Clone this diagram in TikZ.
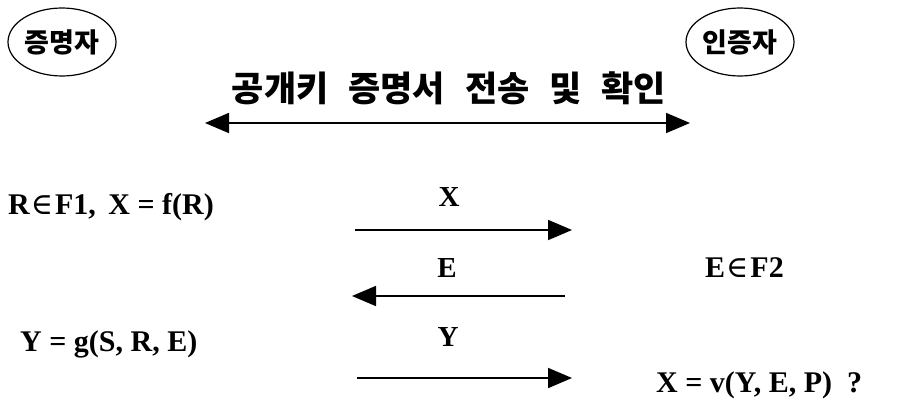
\documentclass[tikz,border=0pt]{standalone}
\usepackage{fontspec}
\setmainfont{Liberation Serif}
\newfontfamily\kr{Noto Sans CJK KR}
\newfontfamily\symf{DejaVu Serif}
\newcommand{\elem}{{\symf\mdseries\kern1pt∈\kern2pt}}
\usetikzlibrary{arrows.meta,shapes.geometric}

\begin{document}
\begin{tikzpicture}[x=1pt, y=-1pt,
    party/.style={draw=black, line width=1.2pt, ellipse, minimum width=108pt, minimum height=68pt, inner sep=0pt, font=\kr\bfseries\fontsize{27}{30}\selectfont},
    msg/.style={draw=black, line width=1.8pt, -{Triangle[length=24pt, width=20pt]}},
    both/.style={draw=black, line width=1.8pt, {Triangle[length=24pt, width=20pt]}-{Triangle[length=24pt, width=20pt]}},
    calc/.style={font=\bfseries\fontsize{30}{33}\selectfont, inner sep=0pt},
    lbl/.style={font=\bfseries\fontsize{29}{32}\selectfont, inner sep=0pt},
  ]
  \useasboundingbox (0,0) rectangle (907,412);

  %% ================= the two parties =================
  \node[party] (prover)   at (62,42)  {증명자};
  \node[party] (verifier) at (740,42) {인증자};

  %% ---- certificate exchange ----
  \node[font=\kr\bfseries\fontsize{35}{38}\selectfont, inner sep=0pt] (cert) at (449,88)
    {공개키\hspace{20pt}증명서\hspace{20pt}전송\hspace{20pt}및\hspace{20pt}확인};
  \coordinate (certL) at (205,123);
  \coordinate (certR) at (690,123);
  \draw[both] (certL) -- (certR);

  %% ---- round 1: commitment ----
  \node[calc, anchor=west] (commit) at (8,207) {R\elem F1,\, X = f(R)};
  \node[lbl] (msgX) at (449,197) {X};
  \coordinate (xL) at (355,230);
  \coordinate (xR) at (572,230);
  \draw[msg] (xL) -- (xR);

  %% ---- round 2: challenge ----
  \node[lbl] (msgE) at (447,268) {E};
  \node[calc, anchor=west] (chal) at (705,268) {E\elem F2};
  \coordinate (eR) at (565,296);
  \coordinate (eL) at (352,296);
  \draw[msg] (eR) -- (eL);

  %% ---- round 3: response and check ----
  \node[calc, anchor=west] (resp) at (20,344) {Y = g(S, R, E)};
  \node[lbl] (msgY) at (448,337) {Y};
  \coordinate (yL) at (357,378);
  \coordinate (yR) at (572,378);
  \draw[msg] (yL) -- (yR);
  \node[calc, anchor=west] (check) at (656,385) {X = v(Y, E, P)\ \ ?};

\end{tikzpicture}
\end{document}
